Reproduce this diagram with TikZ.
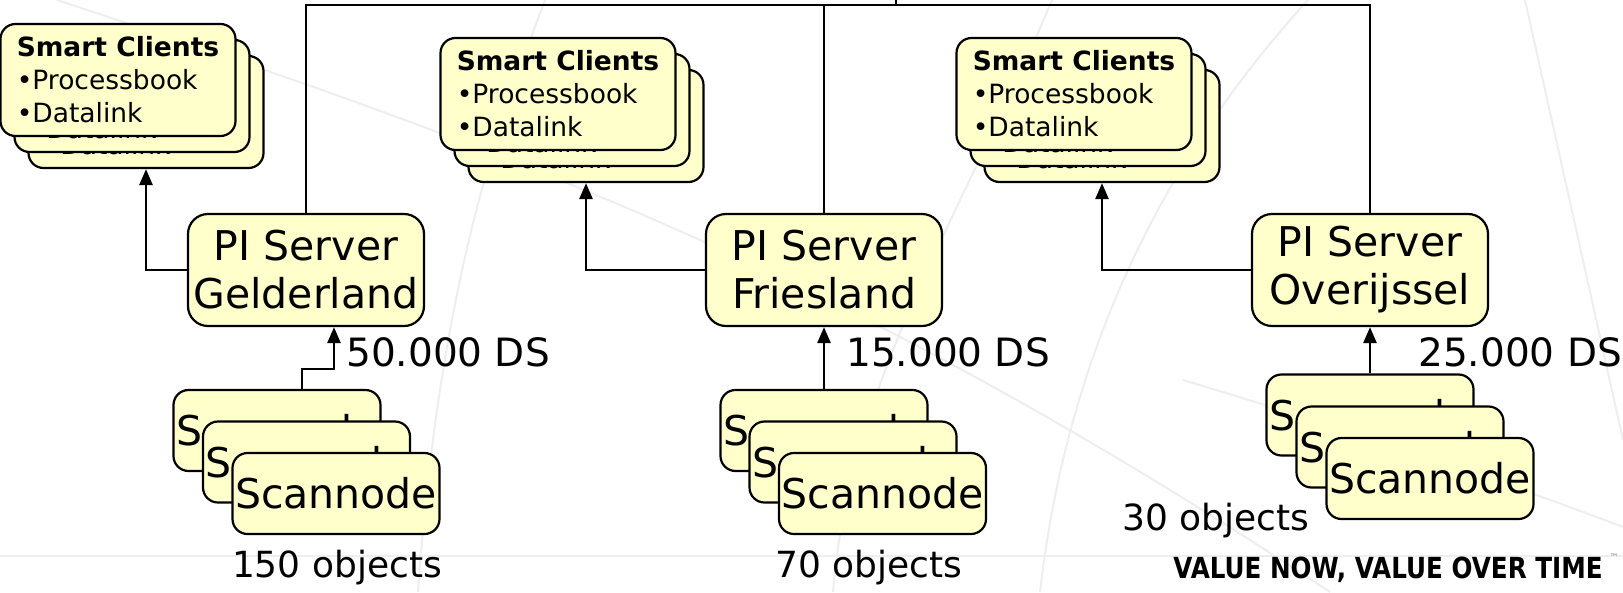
\documentclass[tikz,border=0pt]{standalone}
\usepackage{fontspec}
\setmainfont{DejaVu Sans}
\usetikzlibrary{arrows.meta}
\definecolor{boxfill}{RGB}{255,255,204}
\definecolor{bgline}{RGB}{238,238,238}
\tikzset{
  boxbase/.style={draw, line width=2.2pt, fill=boxfill},
  scbox/.style={boxbase, rounded corners=15pt, minimum width=235pt, minimum height=112pt,
     align=left, inner sep=0pt, font=\fontsize{26.5}{33}\selectfont},
  srvbox/.style={boxbase, rounded corners=20pt, minimum width=236pt, minimum height=112pt,
     align=center, inner sep=0pt, font=\fontsize{41}{48}\selectfont},
  snbox/.style={boxbase, rounded corners=15pt, minimum width=207pt, minimum height=81pt,
     inner xsep=1pt, inner ysep=0pt, font=\fontsize{41}{48}\selectfont},
  conn/.style={line width=2.6pt},
  arr/.style={conn, -{Triangle[length=16pt,width=13pt]}},
  dslabel/.style={anchor=west, inner sep=0pt, font=\fontsize{39}{39}\selectfont},
  objlabel/.style={inner sep=0pt, font=\fontsize{36}{36}\selectfont},
  bg/.style={bgline, line width=2pt}
}
\newcommand{\sctext}{\textbf{Smart Clients}\\\textbullet Processbook\\\textbullet Datalink}
\begin{document}
\begin{tikzpicture}[x=1pt,y=-1pt]
\useasboundingbox (0,0) rectangle (1623,592);
% faint background lines
\draw[bg] (57,0) .. controls (300,80) and (500,150) .. (700,240) .. controls (900,330) and (1100,440) .. (1330,592);
\draw[bg] (545,0) .. controls (500,120) and (440,280) .. (418,592);
\draw[bg] (1052,0) .. controls (960,220) and (850,380) .. (833,592);
\draw[bg] (1308,0) .. controls (1180,140) and (1070,330) .. (1040,592);
\draw[bg] (1525,0) -- (1623,440);
\draw[bg] (0,556) -- (1623,556);
\draw[bg] (1183,380) .. controls (1350,430) and (1500,480) .. (1623,527);
% top bus
\coordinate (bus) at (896,5);
\coordinate (busend) at (896,-4);
% smart clients
\node[scbox] (sc1c) at (146,112) {\sctext};
\node[scbox] (sc1b) at (132,96) {\sctext};
\node[scbox] (sc1a) at (118,80) {\sctext};
\node[scbox] (sc2c) at (586,126) {\sctext};
\node[scbox] (sc2b) at (572,110) {\sctext};
\node[scbox] (sc2a) at (558,94) {\sctext};
\node[scbox] (sc3c) at (1102,126) {\sctext};
\node[scbox] (sc3b) at (1088,110) {\sctext};
\node[scbox] (sc3a) at (1074,94) {\sctext};
% servers
\node[srvbox] (gel) at (306,270) {PI Server\\Gelderland};
\node[srvbox] (fri) at (824,270) {PI Server\\Friesland};
\node[srvbox] (ove) at (1370,270) {PI Server\\Overijssel};
% scannodes
\node[snbox] (sn1a) at (277,430.5) {Scannode};
\node[snbox] (sn1b) at (306.5,462) {Scannode};
\node[snbox] (sn1c) at (336,493.5) {Scannode};
\node[snbox] (sn2a) at (824,430.5) {Scannode};
\node[snbox] (sn2b) at (853,462) {Scannode};
\node[snbox] (sn2c) at (882.5,493.5) {Scannode};
\node[snbox] (sn3a) at (1370,415) {Scannode};
\node[snbox] (sn3b) at (1400,447) {Scannode};
\node[snbox] (sn3c) at (1430,478.5) {Scannode};
% connectors
\draw[conn] (gel.north) |- (bus) -| (ove.north);
\draw[conn] (fri.north) -- (fri.north |- bus);
\draw[conn] (bus) -- (busend);
\draw[arr] (gel.west) -| (sc1c.south);
\draw[arr] (fri.west) -| (sc2c.south);
\draw[arr] (ove.west) -| (sc3c.south);
\draw[arr] ([xshift=25pt]sn1a.north) -- ++(0,-20) -| ([xshift=28pt]gel.south);
\draw[arr] (sn2a.north) -- (fri.south);
\draw[arr] (sn3a.north) -- (ove.south);
% labels
\node[dslabel] (ds1) at (346,352) {50.000 DS};
\node[dslabel] (ds2) at (846,352) {15.000 DS};
\node[dslabel] (ds3) at (1418,352) {25.000 DS};
\node[objlabel] (ob1) at (337,568) {150 objects};
\node[objlabel] (ob2) at (869,568) {70 objects};
\node[objlabel] (ob3) at (1216,521) {30 objects};
\node[inner sep=0pt, font=\bfseries\fontsize{29}{29}\selectfont] (slogan) at (1388,570) {\scalebox{0.85}[1]{VALUE NOW, VALUE OVER TIME}};
\node[inner sep=0pt, font=\fontsize{9}{9}\selectfont, text=gray] (tm) at (1614,557) {™};
\end{tikzpicture}
\end{document}
